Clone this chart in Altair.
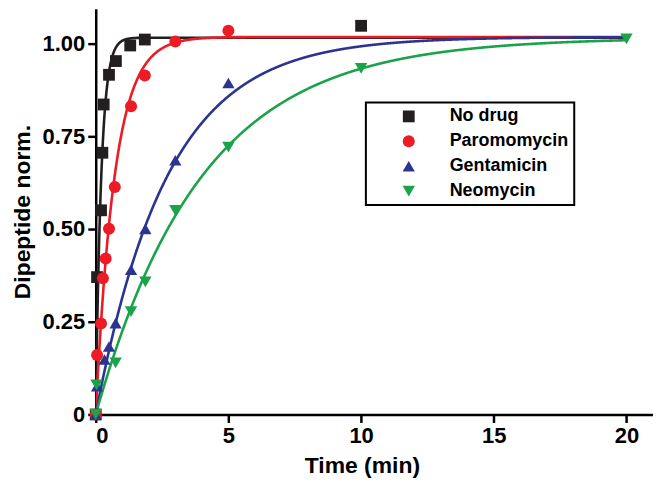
import altair as alt
import pandas as pd

# ---- data ----
series_names = ["No drug", "Paromomycin", "Gentamicin", "Neomycin"]
series_colors = ["#231f20", "#ed1c24", "#2b3590", "#1ba34a"]
series_shapes = ["square", "circle", "triangle-up", "triangle-down"]
series_sizes = [140, 155, 215, 215]

nodrug_t = [0, 0.05, 0.2, 0.25, 0.3, 0.5, 0.76, 1.3, 1.85, 10]
nodrug_y = [0, 0.37, 0.55, 0.705, 0.835, 0.915, 0.952, 0.994, 1.01, 1.047]

paro_t = [0, 0.05, 0.2, 0.27, 0.375, 0.5, 0.72, 1.33, 1.85, 3, 5]
paro_y = [0, 0.16, 0.245, 0.367, 0.42, 0.50, 0.613, 0.83, 0.913, 1.005, 1.034]

genta_t = [0, 0.05, 0.33, 0.5, 0.75, 1.33, 1.87, 3, 5]
genta_y = [0, 0.076, 0.148, 0.183, 0.246, 0.39, 0.50, 0.685, 0.893]

neo_t = [0, 0.03, 0.75, 1.33, 1.87, 3, 5, 10, 20]
neo_y = [0, 0.08, 0.139, 0.277, 0.357, 0.55, 0.72, 0.932, 1.012]

# one-phase association fit parameters (plateau, rate per min)
fit_plateau = [1.015, 1.017, 1.017, 1.015]
fit_rate = [4.8, 1.4, 0.37, 0.25]

x_ticks = [0, 5, 10, 15, 20]
y_ticks = [0, 0.25, 0.5, 0.75, 1.0]

rows = []
for name, ts, ys in zip(series_names, [nodrug_t, paro_t, genta_t, neo_t],
                        [nodrug_y, paro_y, genta_y, neo_y]):
    for t, y in zip(ts, ys):
        rows.append({"series": name, "t": t, "y": y})
points_df = pd.DataFrame(rows)

curve_params = pd.DataFrame({"series": series_names, "A": fit_plateau, "k": fit_rate})

FONT = "Liberation Sans"

x_enc = alt.X("t:Q", scale=alt.Scale(domain=[0, 21], nice=False, zero=False),
              axis=alt.Axis(values=x_ticks, title="Time (min)", format="d", titleX=267))
y_enc = alt.Y("y:Q", scale=alt.Scale(domain=[0, 1.093], nice=False),
              axis=alt.Axis(values=y_ticks, title="Dipeptide norm.",
                            labelExpr="datum.value == 0 ? '0' : format(datum.value, '.2f')"))

color_scale = alt.Scale(domain=series_names, range=series_colors)
shape_scale = alt.Scale(domain=series_names, range=series_shapes)
leg = alt.Legend(title=None)

lines = (
    alt.Chart(curve_params)
    .transform_calculate(ts="sequence(0, 20.0001, 0.01)")
    .transform_flatten(["ts"], as_=["t"])
    .transform_calculate(y="datum.A * (1 - exp(-datum.k * datum.t))")
    .mark_line(strokeWidth=2.6, clip=True)
    .encode(
        x=x_enc, y=y_enc,
        color=alt.Color("series:N", scale=color_scale, legend=leg),
        detail="series:N",
        order="t:Q",
    )
)

pts = (
    alt.Chart(points_df)
    .mark_point(filled=True, opacity=1, strokeWidth=0)
    .encode(
        x=x_enc, y=y_enc,
        color=alt.Color("series:N", scale=color_scale, legend=leg),
        shape=alt.Shape("series:N", scale=shape_scale, legend=leg),
        size=alt.Size("series:N", scale=alt.Scale(domain=series_names, range=series_sizes),
                      legend=None),
    )
)

chart = (
    alt.layer(lines, pts)
    .properties(width=559, height=407,
                autosize=alt.AutoSizeParams(type="none"),
                padding={"left": 88, "top": 0, "right": 0, "bottom": 64})
    .configure_view(stroke=None)
    .configure_axis(
        domainColor="black", domainWidth=2.5, tickColor="black", tickWidth=2.5,
        tickSize=8, labelFont=FONT, labelFontSize=22, labelFontWeight="bold",
        labelColor="black", titleFont=FONT, titleFontSize=23, titleFontWeight="bold",
        titleColor="black", grid=False, labelPadding=3,
    )
    .configure_axisY(titlePadding=8)
    .configure_axisX(titlePadding=8)
    .configure_legend(
        orient="none", legendX=271, legendY=94,
        strokeColor="black", strokeWidth=2, padding=5,
        labelFont=FONT, labelFontSize=18, labelFontWeight="bold", labelColor="black",
        symbolSize=170, symbolOffset=29, labelOffset=32, rowPadding=7,
        symbolStrokeWidth=0, fillColor="white",
    )
)

chart.save("out.html", embed_options={"renderer": "svg", "actions": False})
